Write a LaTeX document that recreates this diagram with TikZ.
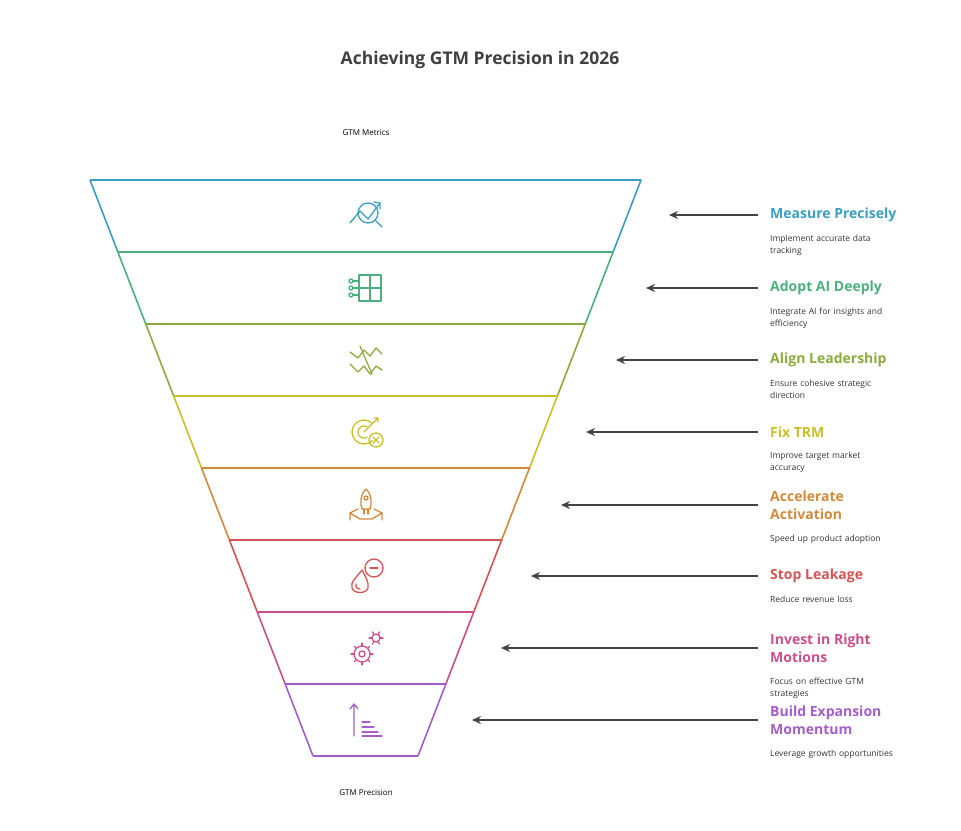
\documentclass[tikz,border=0pt]{standalone}
\usepackage{fontspec}
\setmainfont{Open Sans}
\usetikzlibrary{arrows.meta}
\definecolor{c1}{HTML}{3A9EC2}
\definecolor{c2}{HTML}{4CAF7D}
\definecolor{c3}{HTML}{8AAB3C}
\definecolor{c4}{HTML}{C9BF2A}
\definecolor{c5}{HTML}{D08A3A}
\definecolor{c6}{HTML}{D35454}
\definecolor{c7}{HTML}{C9508A}
\definecolor{c8}{HTML}{A55EC9}
\definecolor{ar}{HTML}{444444}
\begin{document}
\begin{tikzpicture}[x=1pt,y=-1pt,
  seg/.style={line width=1.6pt},
  ico/.style={line width=1.3pt,line cap=round,line join=round},
  head/.style={anchor=west,font=\fontsize{14}{18}\selectfont\bfseries,align=left,inner sep=0pt},
  desc/.style={anchor=north west,font=\fontsize{8.5}{12}\selectfont,text=black!80,align=left,text width=140pt,inner sep=0pt},
  arr/.style={-{Stealth[length=9pt,width=8pt]},line width=1.4pt,draw=ar}]
\useasboundingbox (0,0) rectangle (961,830);
\node[font=\fontsize{17.5}{20}\selectfont\bfseries,text=black!75] (title) at (480,60) {Achieving GTM Precision in 2026};
\node[font=\fontsize{8}{10}\selectfont] (top) at (366,133) {GTM Metrics};
\node[font=\fontsize{8}{10}\selectfont] (bot) at (366,793) {GTM Precision};
% funnel
\def\L#1{90+0.3872*(#1-180)}
\def\R#1{641-0.3872*(#1-180)}
\foreach \i/\c in {0/c1,1/c2,2/c3,3/c4,4/c5,5/c6,6/c7,7/c8}{
  \pgfmathsetmacro\ya{180+72*\i}
  \pgfmathsetmacro\yb{180+72*(\i+1)}
  \pgfmathsetmacro\la{\L{\ya}}\pgfmathsetmacro\lb{\L{\yb}}
  \pgfmathsetmacro\ra{\R{\ya}}\pgfmathsetmacro\rb{\R{\yb}}
  \draw[seg,\c,line join=round] (\la,\ya) -- (\ra,\ya) -- (\rb,\yb);
  \draw[seg,\c] (\la,\ya) -- (\lb,\yb);
}
\draw[seg,c8] ({\L{756}},756) -- ({\R{756}},756);
% labels and arrows
\foreach \n/\y/\xe/\c/\h/\d in {
 a/215/669/c1/{Measure Precisely}/{Implement accurate data\\tracking},
 b/288/646/c2/{Adopt AI Deeply}/{Integrate AI for insights and\\efficiency},
 c/360/616/c3/{Align Leadership}/{Ensure cohesive strategic\\direction},
 d/432/586/c4/{Fix TRM}/{Improve target market\\accuracy},
 f/576/531/c6/{Stop Leakage}/{Reduce revenue loss}}{
  \node[head,text=\c] (h\n) at (770,\y) {\h};
  \node[desc] (d\n) at (770,\y+20) {\d};
  \coordinate (s\n) at (758,\y); \coordinate (e\n) at (\xe,\y);
  \draw[arr] (s\n) -- (e\n);
}
\foreach \n/\y/\xe/\c/\h/\d in {
 e/505/561/c5/{Accelerate\\Activation}/{Speed up product adoption},
 g/648/501/c7/{Invest in Right\\Motions}/{Focus on effective GTM\\strategies},
 h/720/472/c8/{Build Expansion\\Momentum}/{Leverage growth opportunities}}{
  \node[head,text=\c,anchor=north west] (h\n) at (770,\y-14) {\h};
  \node[desc] (d\n) at (770,\y+30) {\d};
  \coordinate (s\n) at (758,\y); \coordinate (e\n) at (\xe,\y);
  \draw[arr] (s\n) -- (e\n);
}
% icons
\begin{scope}[ico,c1,shift={(366,215)}]
 \draw (2,-2) circle (10);
 \draw (9,5) -- (16,12);
 \draw (-16,8) -- (-6,-4) -- (2,4) -- (14,-12);
 \draw (8,-13) -- (14,-12) -- (14,-6);
\end{scope}
\begin{scope}[ico,c2,shift={(366,288)}]
 \draw (-7,-13) rectangle (15,13);
 \draw (4,-13) -- (4,13) (-7,0) -- (15,0);
 \draw (-7,-7) -- (-13,-7) (-7,7) -- (-13,7) (-7,0)--(-13,0);
 \foreach \yy in {-7,0,7} \draw (-15,\yy) circle (2);
\end{scope}
\begin{scope}[ico,c3,shift={(366,360)}]
 \draw (-16,-8) -- (-8,-2) -- (-2,-10) -- (4,-4) -- (10,-12) -- (16,-6);
 \draw (-16,4) -- (-8,12) -- (-2,6) -- (4,14) -- (10,6) -- (16,10);
 \draw (-6,-14) -- (0,0) -- (6,14);
\end{scope}
\begin{scope}[ico,c4,shift={(366,432)}]
 \draw (-2,0) ++(45:12) arc (45:315:12);
 \draw (-2,0) ++(60:6) arc (60:300:6);
 \draw (-2,0) -- (12,-14) (8,-14) -- (12,-14) -- (12,-10);
 \draw (10,8) circle (7);
 \draw (7,5) -- (13,11) (13,5) -- (7,11);
\end{scope}
\begin{scope}[ico,c5,shift={(366,505)}]
 \draw (0,-16) .. controls (6,-10) and (6,-2) .. (4,4) -- (-4,4) .. controls (-6,-2) and (-6,-10) .. (0,-16);
 \draw (0,-7) circle (2);
 \draw (-2,4) -- (-2,9) (2,4) -- (2,9);
 \draw (-16,15) -- (-16,8) -- (-8,4) (16,15) -- (16,8) -- (8,4);
 \draw (-16,8) -- (-6,14) -- (6,14) -- (16,8);
\end{scope}
\begin{scope}[ico,c6,shift={(366,576)}]
 \draw (-4,-6) .. controls (-10,2) and (-16,6) .. (-14,12) .. controls (-12,18) and (0,18) .. (2,12) .. controls (3,6) and (0,2) .. (-4,-6);
 \draw (8,-8) circle (9);
 \draw (4,-8) -- (12,-8);
 \draw (-10,8) .. controls (-10,12) .. (-6,13);
\end{scope}
\begin{scope}[ico,c7,shift={(366,648)}]
 \draw (-4,6) circle (8);
 \draw (-4,6) circle (3);
 \foreach \a in {0,45,...,315} \draw (-4,6) ++(\a:8) -- ++(\a:3);
 \draw (10,-10) circle (4);
 \foreach \a in {0,60,...,300} \draw (10,-10) ++(\a:4) -- ++(\a:3);
\end{scope}
\begin{scope}[ico,c8,shift={(366,720)}]
 \draw (-12,16) -- (-12,-16) (-16,-11) -- (-12,-16) -- (-8,-11);
 \draw (-4,2) -- (4,2) (-4,7) -- (8,7) (-4,12) -- (12,12) (-4,16) -- (16,16);
\end{scope}
\end{tikzpicture}
\end{document}
